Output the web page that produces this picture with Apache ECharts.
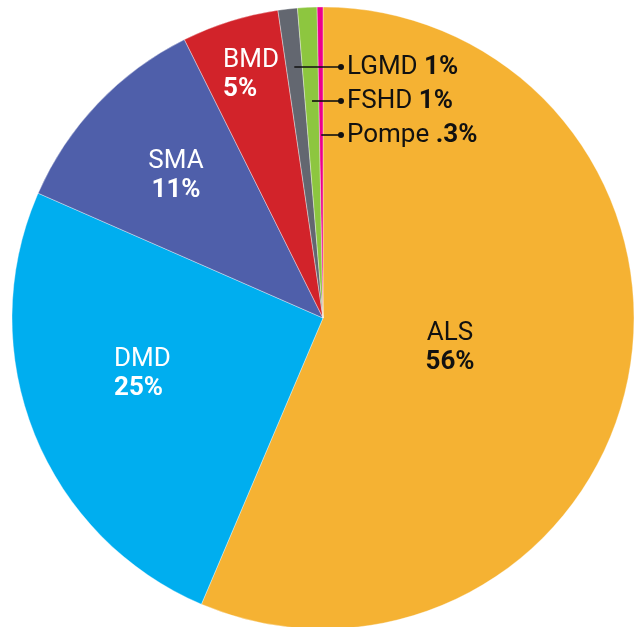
<!DOCTYPE html>
<html><head><meta charset="utf-8">
<script src="https://cdn.jsdelivr.net/npm/echarts@6/dist/echarts.min.js"></script>
<style>html,body{margin:0;padding:0;background:#fff}#c{width:634px;height:627px}</style>
</head><body><div id="c"></div>
<script>
const categories = ['ALS','DMD','SMA','BMD','LGMD','FSHD','Pompe'];
const values = [56,25,11,5,1,1,0.3];
const pctLabels = ['56%','25%','11%','5%','1%','1%','.3%'];
const colors = ['#F5B233','#00AEEF','#4F5FAA','#D2232A','#636770','#8DC63F','#EC008C'];

const CX = 323, CY = 318, R = 311;
const FONT = 'Roboto';
const FS = 26;
// label anchor placements (style only)
const inside = {
  ALS:  {x:450, y:348, align:'center', color:'#111'},
  DMD:  {x:114, y:374, align:'left',   color:'#fff'},
  SMA:  {x:176, y:176, align:'center', color:'#fff'},
  BMD:  {x:223, y:75,  align:'left',   color:'#fff'}
};
const outside = { LGMD:{x:347,y:67}, FSHD:{x:347,y:101}, Pompe:{x:347,y:135} };
const dotX = 341;

const total = values.reduce((a,b)=>a+b,0);
function midAngle(i){ let c=0; for(let k=0;k<i;k++) c+=values[k]; return (c+values[i]/2)/total*2*Math.PI; }

const data = categories.map((n,i)=>{
  const isOut = !!outside[n];
  const st = inside[n];
  return {
    name:n, value:values[i],
    itemStyle:{color:colors[i]},
    label: isOut ? {
      show:true, position:'outside',
      formatter:'{n|'+n+' }{b|'+pctLabels[i]+'}',
      rich:{
        n:{fontFamily:FONT,fontSize:FS,color:'#111'},
        b:{fontFamily:FONT,fontSize:FS,fontWeight:'bold',color:'#111'}
      }
    } : {
      show:true, position:'inside',
      formatter:'{n|'+n+'}\n{b|'+pctLabels[i]+'}',
      align: st.align,
      rich:{
        n:{fontFamily:FONT,fontSize:FS,color:st.color,lineHeight:29,align:st.align},
        b:{fontFamily:FONT,fontSize:FS,fontWeight:'bold',color:st.color,lineHeight:29,align:st.align}
      }
    },
    labelLine:{show:false}
  };
});

// leader lines + dots, anchored on each slice's mid-angle ray
const graphics = [];
categories.forEach((n,i)=>{
  if (!outside[n]) return;
  const o = outside[n];
  const a = midAngle(i);
  const lx = CX + (CY - o.y) * Math.tan(a);
  graphics.push({type:'line', z:100, shape:{x1:lx,y1:o.y,x2:dotX,y2:o.y}, style:{stroke:'#111',lineWidth:1.6}});
  graphics.push({type:'circle', z:100, shape:{cx:dotX,cy:o.y,r:3}, style:{fill:'#111'}});
});

const chart = echarts.init(document.getElementById('c'), null, {renderer:'canvas'});
chart.setOption({
  animation:false,
  graphic:graphics,
  series:[{
    type:'pie',
    center:[CX,CY], radius:[0,R],
    startAngle:90, clockwise:true,
    avoidLabelOverlap:false,
    itemStyle:{borderColor:'rgba(255,255,255,0.6)',borderWidth:0.6},
    data:data,
    labelLayout:function(p){
      const n = categories[p.dataIndex];
      if (outside[n]) {
        const o = outside[n];
        return {x:o.x, y:o.y, align:'left', verticalAlign:'middle'};
      }
      const s = inside[n];
      return {x:s.x, y:s.y, align:s.align, verticalAlign:'middle'};
    }
  }]
});
</script></body></html>
